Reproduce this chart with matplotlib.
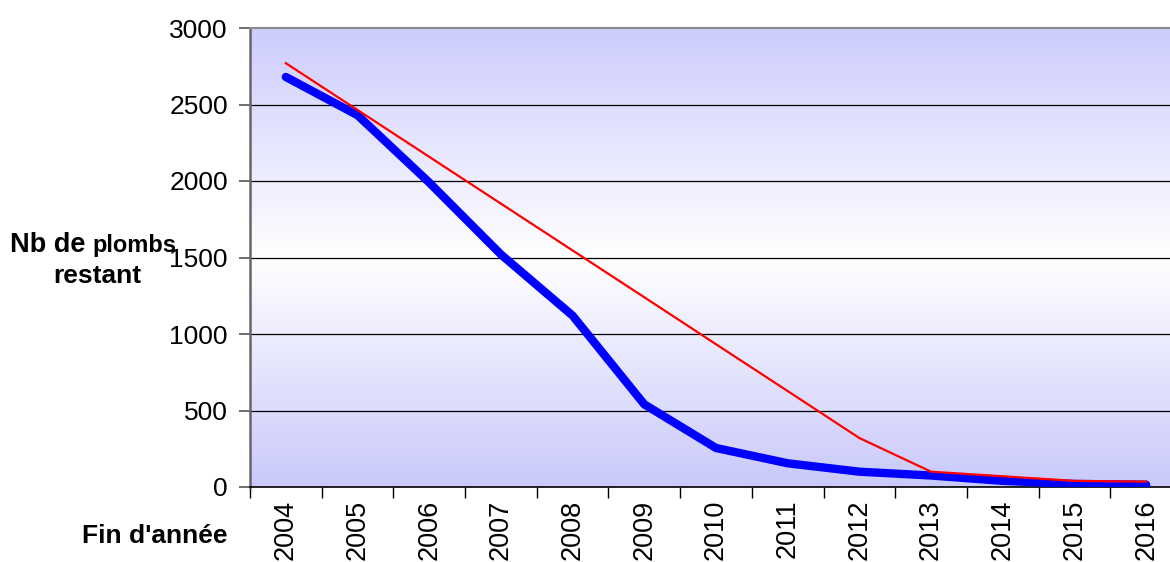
import matplotlib.pyplot as plt
import numpy as np
from matplotlib.colors import LinearSegmentedColormap

plt.rcParams['font.family'] = ['Liberation Sans', 'DejaVu Sans']

# Remaining lead pipes at end of year
years = ["2004", "2005", "2006", "2007", "2008", "2009", "2010",
         "2011", "2012", "2013", "2014", "2015", "2016"]
reel = [2680, 2430, 1990, 1520, 1120, 540, 255, 155, 100, 75, 40, 20, 15]
objectif = [2770, 2464, 2158, 1852, 1546, 1240, 933, 627, 320, 100, 70, 40, 35]

fig = plt.figure(figsize=(11.7, 5.62), dpi=100)
# plot area runs a little past the right edge of the figure
ax = fig.add_axes([250 / 1170, 1 - 487 / 562, (1182 - 250) / 1170, (487 - 28) / 562])

x = np.arange(len(years))
ax.set_xlim(-0.5, len(years) - 0.5)
ax.set_ylim(0, 3000)

# blue / white / blue vertical gradient behind the plot
cmap = LinearSegmentedColormap.from_list(
    "fond", [(0.0, "#c9c9fb"), (0.5, "#ffffff"), (1.0, "#ccccfd")])
grad = np.linspace(0, 1, 256).reshape(-1, 1)
ax.imshow(grad, aspect="auto", cmap=cmap, origin="lower",
          extent=[-0.5, len(years) - 0.5, 0, 3000], zorder=0)

for v in range(500, 3000, 500):
    ax.axhline(v, color="black", lw=0.9, zorder=1)

ax.plot(x, reel, color="#0000ff", lw=6, solid_capstyle="round",
        solid_joinstyle="round", zorder=3)
ax.plot(x, objectif, color="#ff0000", lw=1.6, zorder=4)

ax.set_yticks(range(0, 3001, 500))
ax.set_yticklabels([str(v) for v in range(0, 3001, 500)], fontsize=19)
ax.set_xticks(np.arange(-0.5, len(years) - 0.5, 1), minor=False)
ax.set_xticklabels([])
ax.set_xticks(x, minor=True)
ax.set_xticklabels(years, minor=True, rotation=90, fontsize=19.5)
ax.tick_params(axis="x", which="minor", length=0, pad=9)
ax.tick_params(axis="x", which="major", length=8, width=1, color="black")
ax.tick_params(axis="y", length=8, width=1.2, color="#555555", pad=8)

ax.spines["left"].set_color("#666666")
ax.spines["left"].set_linewidth(1.8)
ax.spines["top"].set_color("#8c8c8c")
ax.spines["top"].set_linewidth(1.5)
ax.spines["bottom"].set_color("black")
ax.spines["bottom"].set_linewidth(1.2)
ax.spines["right"].set_visible(False)

# y-axis title, "plombs" set a little smaller than "Nb de"
fig.text(10 / 1170, 1 - 252 / 562, "Nb de", fontsize=19.5, fontweight="bold",
         ha="left", va="baseline")
fig.text(92 / 1170, 1 - 252 / 562, "plombs", fontsize=17, fontweight="bold",
         ha="left", va="baseline")
fig.text(97 / 1170, 1 - 283 / 562, "restant", fontsize=19, fontweight="bold",
         ha="center", va="baseline")
fig.text(155 / 1170, 1 - 536 / 562, "Fin d'année", fontsize=19, fontweight="bold",
         ha="center", va="center")

fig.savefig("out.png", dpi=100)
